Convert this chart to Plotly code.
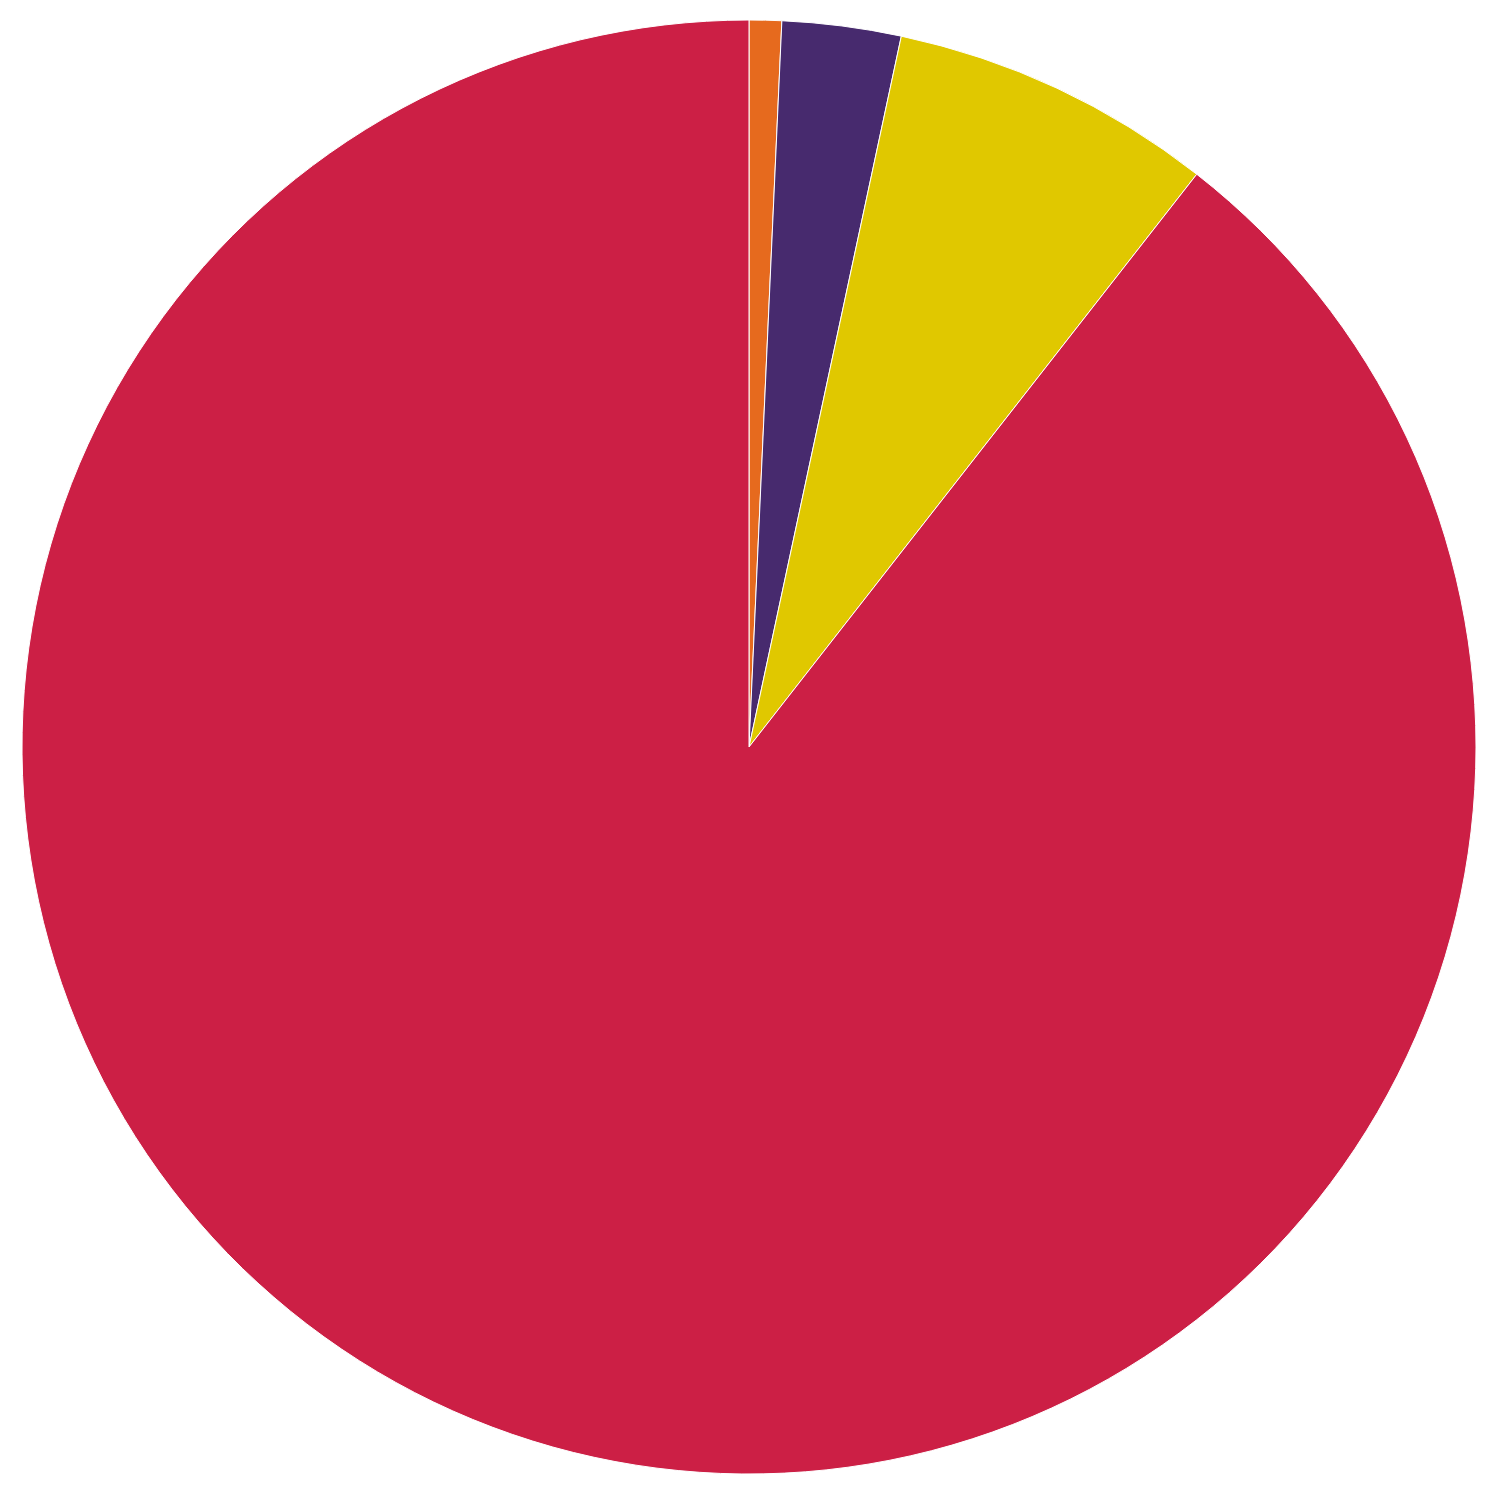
import plotly.graph_objects as go

# slices, clockwise from 12 o'clock
labels = ["Orange", "Purple", "Yellow", "Red"]
values = [0.72, 2.64, 7.2, 89.44]
colours = ["#E66A1E", "#472A6E", "#E0C800", "#CC1F45"]

fig = go.Figure(
    go.Pie(
        labels=labels,
        values=values,
        sort=False,
        direction="clockwise",
        rotation=0,
        textinfo="none",
        hoverinfo="label+percent",
        marker={"colors": colours, "line": {"color": "white", "width": 1}},
    )
)

fig.update_layout(
    width=1500,
    height=1500,
    showlegend=False,
    paper_bgcolor="white",
    margin={"l": 14, "r": 32, "t": 12, "b": 34},
)

fig.write_html("out.html")
